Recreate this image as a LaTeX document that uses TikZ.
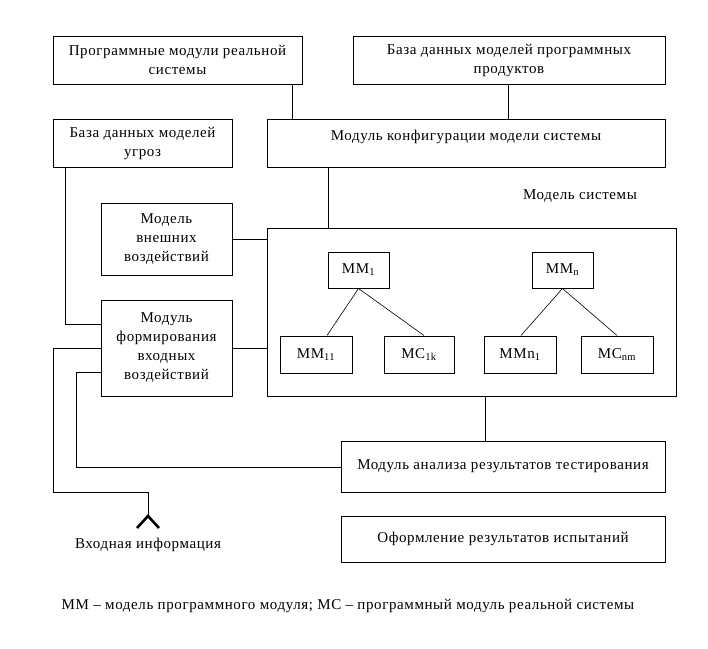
\documentclass[tikz,border=0pt]{standalone}
\usepackage{fontspec}
\setmainfont[LetterSpace=4]{Liberation Serif}
\begin{document}
\begin{tikzpicture}[x=1pt,y=-1pt,
  box/.style={draw, line width=1pt, inner sep=0pt, align=center, font=\fontsize{15}{19}\selectfont},
  lbl/.style={inner sep=0pt, align=center, font=\fontsize{15}{19}\selectfont},
  conn/.style={line width=1pt},
  tree/.style={line width=0.6pt}]
\useasboundingbox (0,0) rectangle (708,648);
% top row
\node[box, minimum width=249, minimum height=48] (prog) at (177.5,60) {Программные модули реальной\\системы};
\node[box, minimum width=312, minimum height=48] (bdp) at (509,60) {База данных моделей программных\\продуктов};
% second row
\node[box, minimum width=179, minimum height=48] (bdu) at (142.5,143) {База данных моделей\\угроз};
\node[box, minimum width=398, minimum height=48] (conf) at (466,143) {};
\node[lbl] (conft) at (466,137) {Модуль конфигурации модели системы};
% label
\node[lbl] (msys) at (580,196) {Модель системы};
% left boxes
\node[box, minimum width=131, minimum height=72] (ext) at (166.5,239) {Модель\\внешних\\воздействий};
\node[box, minimum width=131, minimum height=96] (form) at (166.5,348) {Модуль\\формирования\\входных\\воздействий};
% big system box
\node[box, minimum width=409, minimum height=168] (sys) at (471.5,312) {};
% inner boxes
\node[box, minimum width=61, minimum height=36] (mm1) at (358.5,270) {ММ\textsubscript{1}};
\node[box, minimum width=72, minimum height=37] (mm11) at (316,354.5) {ММ\textsubscript{11}};
\node[box, minimum width=70, minimum height=37] (mc1k) at (419,354.5) {МС\textsubscript{1k}};
\node[box, minimum width=61, minimum height=36] (mmn) at (562.5,270) {ММ\textsubscript{n}};
\node[box, minimum width=72, minimum height=37] (mmn1) at (520,354.5) {ММn\textsubscript{1}};
\node[box, minimum width=72, minimum height=37] (mcnm) at (617,354.5) {МС\textsubscript{nm}};
% bottom boxes
\node[box, minimum width=324, minimum height=51] (anal) at (503,466.5) {Модуль анализа результатов тестирования};
\node[box, minimum width=324, minimum height=46] (ofo) at (503,539) {Оформление результатов испытаний};
\node[lbl] (inp) at (148,545) {Входная информация};
\node[lbl] (leg) at (348,606) {ММ – модель программного модуля; МС – программный модуль реальной системы};
% coordinates
\coordinate (tip) at (148,516);
% connectors
\draw[conn] (prog.south -| 292,0) -- (conf.north -| 292,0);
\draw[conn] (bdp.south -| 508,0) -- (conf.north -| 508,0);
\draw[conn] (conf.south -| 328,0) -- (sys.north -| 328,0);
\draw[conn] (ext.east) -- (sys.west |- ext.east);
\draw[conn] (form.east) -- (sys.west |- form.east);
\draw[conn] (bdu.south -| 65,0) -- (65,324) -- (form.west |- 0,324);
\draw[conn] (sys.south -| 485,0) -- (anal.north -| 485,0);
\draw[conn] (form.west) -- (53,348) -- (53,492) -- (148,492) -- (tip);
\draw[conn] (form.west |- 0,372) -- (76,372) -- (76,467) -- (anal.west |- 0,467);
\draw[line width=2.6pt] (137,528) -- (tip) -- (159,528);
% tree
\draw[tree] (mm1.south) -- (mm11.north -| 327,0);
\draw[tree] (mm1.south) -- (mc1k.north -| 424,0);
\draw[tree] (mmn.south) -- (mmn1.north -| 521,0);
\draw[tree] (mmn.south) -- (mcnm.north -| 617,0);
\end{tikzpicture}
\end{document}
